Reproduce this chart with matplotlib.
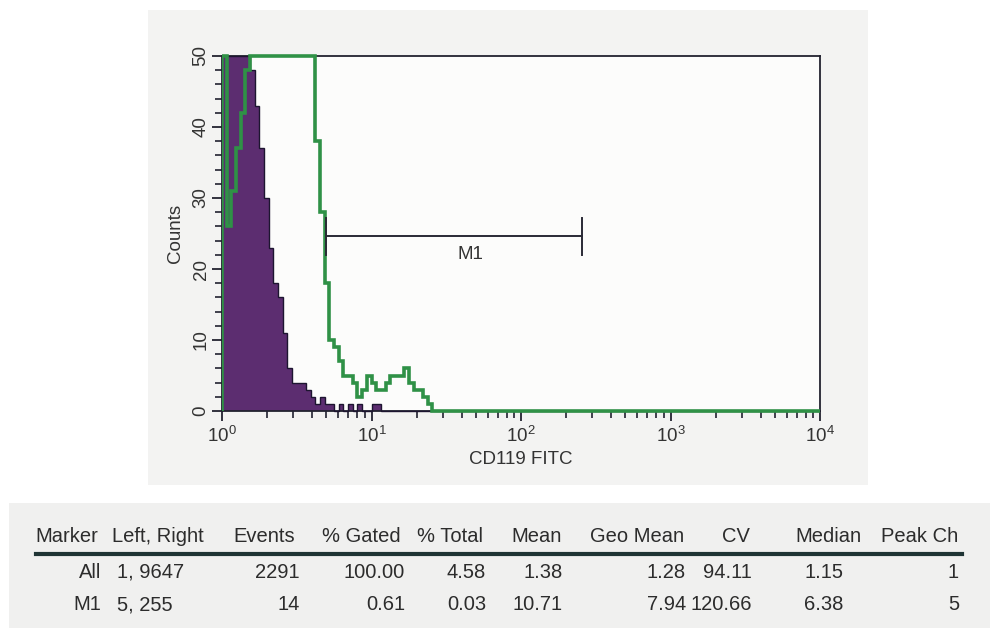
import numpy as np
import matplotlib
matplotlib.use("Agg")
import matplotlib.pyplot as plt
from matplotlib import font_manager
from matplotlib.lines import Line2D
from matplotlib.patches import Rectangle
from matplotlib.ticker import LogLocator, MultipleLocator

# channels are 1/32 of a decade wide, starting at 10^0
bins_per_decade = 32
n_decades = 4
y_max = 50

# isotype control (filled)
control_counts = [400, 300, 200, 150, 100, 70, 48, 43, 37, 30, 23, 18, 16, 11,
                  6, 4, 4, 4, 3, 2, 1, 2, 1, 1, 0, 1, 0, 1, 0, 1, 0, 0, 1, 1]
# CD119 stained sample (open line)
sample_counts = [60, 26, 31, 37, 42, 48, 80, 100, 120, 130, 130, 120, 110, 100,
                 90, 80, 70, 65, 60, 55, 38, 28, 18, 10, 9, 7, 5, 5, 4, 2, 3, 5,
                 4, 3, 3, 4, 5, 5, 5, 6, 4, 3, 3, 2, 1]

marker_name = "M1"
marker_left, marker_right = 5, 255
marker_level = 24.6

x_label = "CD119 FITC"
y_label = "Counts"

table_header = ["Marker", "Left, Right", "Events", "% Gated", "% Total",
                "Mean", "Geo Mean", "CV", "Median", "Peak Ch"]
table_rows = [
    ["All", "1, 9647", "2291", "100.00", "4.58", "1.38", "1.28", "94.11", "1.15", "1"],
    ["M1", "5, 255", "14", "0.61", "0.03", "10.71", "7.94", "120.66", "6.38", "5"],
]


def pick_font(names):
    for name in names:
        try:
            font_manager.findfont(name, fallback_to_default=False)
            return name
        except Exception:
            pass
    return "DejaVu Sans"


sans = pick_font(["Liberation Sans Narrow", "Liberation Sans", "Arial"])
plt.rcParams["font.family"] = [sans, "DejaVu Sans"]
plt.rcParams["mathtext.fontset"] = "custom"
plt.rcParams["mathtext.rm"] = sans
plt.rcParams["mathtext.default"] = "regular"

W, H = 996, 628
fig = plt.figure(figsize=(W / 100, H / 100), dpi=100, facecolor="white")


def fx(px):
    return px / W


def fy(py):
    return 1 - py / H


# greyish paper behind the histogram and the stats table
fig.add_artist(Rectangle((fx(148), fy(485)), fx(720), (485 - 10) / H,
                         transform=fig.transFigure, facecolor="#f3f3f2",
                         edgecolor="none", zorder=0))
fig.add_artist(Rectangle((fx(9), fy(628)), fx(981), (628 - 503) / H,
                         transform=fig.transFigure, facecolor="#f0f0ef",
                         edgecolor="none", zorder=0))

ax = fig.add_axes([fx(222), fy(411), fx(820 - 222), (411 - 56) / H])
ax.set_facecolor("#fcfcfb")

n_bins = bins_per_decade * n_decades
edges = 10 ** (np.arange(n_bins + 1) / bins_per_decade)
control = np.zeros(n_bins)
control[:len(control_counts)] = control_counts
sample = np.zeros(n_bins)
sample[:len(sample_counts)] = sample_counts

# off-scale channels are pinned to the top of the plot, as the cytometer does
control_shown = np.minimum(control, y_max)
sample_shown = np.minimum(sample, y_max)

clip = Rectangle((1, -1), 1e4, y_max + 1.5, transform=ax.transData)

ax.stairs(control_shown, edges, fill=True, facecolor="#5c2d70",
          edgecolor="none", zorder=2)
st = ax.stairs(control_shown, edges, color="#1d1530", lw=1.0, zorder=3)
st.set_clip_path(clip)
g = ax.stairs(sample_shown, edges, color="#2f9146", lw=2.6, zorder=4)
g.set_clip_path(clip)

# marker bar
ax.plot([marker_left, marker_right], [marker_level, marker_level],
        color="#2a2a35", lw=1.4, zorder=5)
for xm in (marker_left, marker_right):
    ax.plot([xm, xm], [marker_level - 2.6, marker_level + 2.6],
            color="#2a2a35", lw=1.4, zorder=5)
ax.text(np.sqrt(marker_left * marker_right) * 1.28, marker_level - 2.6,
        marker_name, ha="center", va="center", fontsize=13.5, color="#333333")

ax.set_xscale("log")
ax.set_xlim(1, 1e4)
ax.set_ylim(0, y_max)
ax.xaxis.set_major_locator(LogLocator(base=10, numticks=10))
ax.xaxis.set_minor_locator(LogLocator(base=10, subs=np.arange(2, 10), numticks=20))
ax.yaxis.set_major_locator(MultipleLocator(10))
ax.yaxis.set_minor_locator(MultipleLocator(2))

for sp in ax.spines.values():
    sp.set_color("#222230")
    sp.set_linewidth(1.3)

ax.tick_params(which="major", direction="out", length=7, width=1.3,
               color="#222230", labelsize=13.5, labelcolor="#333333")
ax.tick_params(which="minor", direction="out", length=5, width=1.2,
               color="#222230")
ax.tick_params(axis="y", labelrotation=90, pad=2)
for lab in ax.get_yticklabels():
    lab.set_va("center")
ax.tick_params(axis="x", pad=4)

ax.set_xlabel(x_label, fontsize=13.5, color="#333333", labelpad=3)
ax.set_ylabel(y_label, fontsize=13.5, color="#333333", labelpad=6)

# stats table under the plot
header_left = [35, 112, 233, 322, 417, 511, 590, 722, 795, 881]
value_right = [101, None, 300, 405, 486, 563, 686, 752, 843, 959]
lr_left = 117
header_y = 537
row_y = [572, 605]
tfont = dict(fontsize=14.5, color="#2c2c2c", va="center")

for xh, label in zip(header_left, table_header):
    fig.text(fx(xh), fy(header_y), label, ha="left", **tfont)

fig.add_artist(Line2D([fx(36), fx(962)], [fy(554), fy(554)],
                      transform=fig.transFigure, color="#1f3434", lw=3.0))

for yr, row in zip(row_y, table_rows):
    for xr, val in zip(value_right, row):
        if xr is None:
            fig.text(fx(lr_left), fy(yr), val, ha="left", **tfont)
        else:
            fig.text(fx(xr), fy(yr), val, ha="right", **tfont)

fig.savefig("out.png", dpi=100, facecolor="white")
